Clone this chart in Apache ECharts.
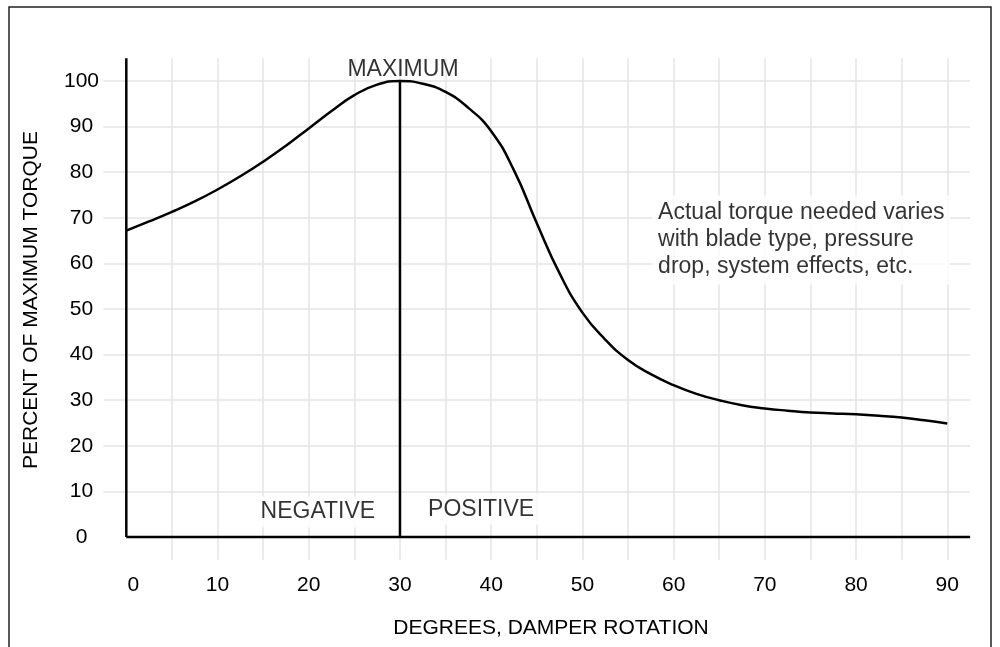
<!DOCTYPE html>
<html>
<head>
<meta charset="utf-8">
<script src="https://cdn.jsdelivr.net/npm/echarts@6/dist/echarts.min.js"></script>
<style>
    html, body { margin: 0; padding: 0; background: #fff; }
    #chart { width: 1000px; height: 647px; }
</style>
</head>
<body>
<div id="chart"></div>
<script>
// torque curve (degrees of damper rotation -> % of max torque)
var degrees = [0, 2.5, 5, 7.5, 10, 12.5, 15, 17.5, 20, 22.5, 25, 27.5, 30, 32.5, 35, 37.5, 40, 42.5, 45,
               47.5, 50, 52.5, 55, 57.5, 60, 62.5, 65, 67.5, 70, 72.5, 75, 77.5, 80, 82.5, 85, 87.5, 90];
var torque  = [67.2, 69.2, 71.3, 73.6, 76.2, 79.1, 82.3, 85.8, 89.6, 93.4, 96.9, 99.2, 100, 99.4, 97.6, 94.1, 89.0, 80.4, 68.8,
               57.8, 49.2, 43.3, 38.8, 35.7, 33.3, 31.4, 30.0, 28.9, 28.2, 27.7, 27.3, 27.1, 26.9, 26.6, 26.2, 25.6, 24.9];

// tick labels and grid lines
var xTickLabels = [0, 10, 20, 30, 40, 50, 60, 70, 80, 90];
var xGridTicks  = [5, 10, 15, 20, 25, 30, 35, 40, 45, 50, 55, 60, 65, 70, 75, 80, 85, 90];
var yTickLabels = [0, 10, 20, 30, 40, 50, 60, 70, 80, 90, 100];
var yGridTicks  = [10, 20, 30, 40, 50, 60, 70, 80, 90, 100];

// axis extents
var xRange = [-2.5, 92.5];
var yRange = [-5, 105];

// black axis lines and the maximum marker
var xAxisLineX = [0, 92.5];
var xAxisLineY = [0, 0];
var yAxisLineX = [0, 0];
var yAxisLineY = [0, 105];
var maxLineX = [30, 30];
var maxLineY = [0, 100];

// notes on the chart
var noteText = ['MAXIMUM', 'NEGATIVE', 'POSITIVE',
    'Actual torque needed varies\nwith blade type, pressure\ndrop, system effects, etc.'];
var noteX = [30, 21, 38.9, 58.3];
var noteY = [100, 5.5, 6.1, 74.0];

(function(){
    var chart = echarts.init(document.getElementById('chart'));
    var font = '"Liberation Sans", Arial, Helvetica, sans-serif';
    var ink = '#000';
    var gridColor = '#e4e4e4';
    var fs = 21;
    var noteFs = 23;

    function pairs(xs, ys){
        return xs.map(function(x, i){ return [x, ys[i]]; });
    }

    function blackLine(name, xs, ys){
        return {
            name: name,
            type: 'line',
            data: pairs(xs, ys),
            symbol: 'none',
            silent: true,
            clip: false,
            lineStyle: { color: ink, width: 2.5 },
            z: 3
        };
    }

    var noteLabels = [
        { position: 'inside', offset: [3, -11] },
        { position: 'inside', backgroundColor: '#fff', padding: [4, 6] },
        { position: 'inside', backgroundColor: '#fff', padding: [4, 6] },
        { position: 'inside', align: 'left', verticalAlign: 'top', lineHeight: 27,
          backgroundColor: '#fff', padding: [4, 6], offset: [-6, -4] }
    ];

    var notes = noteText.map(function(t, i){
        var lab = Object.assign({ show: true, formatter: '{b}', color: ink, fontSize: noteFs, fontFamily: font }, noteLabels[i]);
        return { name: t, value: [noteX[i], noteY[i]], label: lab };
    });

    var option = {
        animation: false,
        backgroundColor: '#fff',
        textStyle: { fontFamily: font },
        grid: {
            left: 103.5,
            top: 58.2,
            width: 866.6,
            height: 501.6,
            containLabel: false,
            outerBoundsMode: 'none'
        },
        xAxis: {
            type: 'value',
            min: xRange[0],
            max: xRange[1],
            axisLine: { show: false },
            axisTick: { show: false, customValues: xGridTicks },
            axisLabel: {
                customValues: xTickLabels, color: ink, fontSize: fs, fontFamily: font, margin: 15,
                // the zero label sits a little right of its tick in the original
                formatter: function(v){ return v === 0 ? '{z|0}' : String(v); },
                rich: { z: { color: ink, fontSize: fs, fontFamily: font, padding: [0, 0, 0, 14] } }
            },
            splitLine: { show: true, lineStyle: { color: gridColor, width: 1.5 } }
        },
        yAxis: {
            type: 'value',
            min: yRange[0],
            max: yRange[1],
            axisLine: { show: false },
            axisTick: { show: false, customValues: yGridTicks },
            axisLabel: { customValues: yTickLabels, color: ink, fontSize: fs, fontFamily: font, align: 'center', margin: 22 },
            splitLine: { show: true, lineStyle: { color: gridColor, width: 1.5 } }
        },
        series: [
            {
                name: 'torque',
                type: 'line',
                data: pairs(degrees, torque),
                smooth: 0.5,
                symbol: 'none',
                lineStyle: { color: '#000', width: 2.5 },
                z: 4
            },
            blackLine('xaxis', xAxisLineX, xAxisLineY),
            blackLine('yaxis', yAxisLineX, yAxisLineY),
            blackLine('max', maxLineX, maxLineY),
            {
                name: 'notes',
                type: 'scatter',
                data: notes,
                symbolSize: 0,
                silent: true,
                z: 5
            }
        ],
        graphic: [
            {
                type: 'rect',
                shape: { x: 9, y: 7, width: 982, height: 700 },
                style: { fill: 'none', stroke: '#222', lineWidth: 1.5 },
                z: 10
            },
            {
                type: 'text',
                x: 551, y: 628,
                style: { text: 'DEGREES, DAMPER ROTATION', fill: ink, font: fs + 'px ' + font, align: 'center', verticalAlign: 'middle' }
            },
            {
                type: 'text',
                x: 31, y: 300,
                rotation: Math.PI / 2,
                style: { text: 'PERCENT OF MAXIMUM TORQUE', fill: ink, font: fs + 'px ' + font, align: 'center', verticalAlign: 'middle' }
            }
        ]
    };

    chart.setOption(option);
})();
</script>
</body>
</html>
